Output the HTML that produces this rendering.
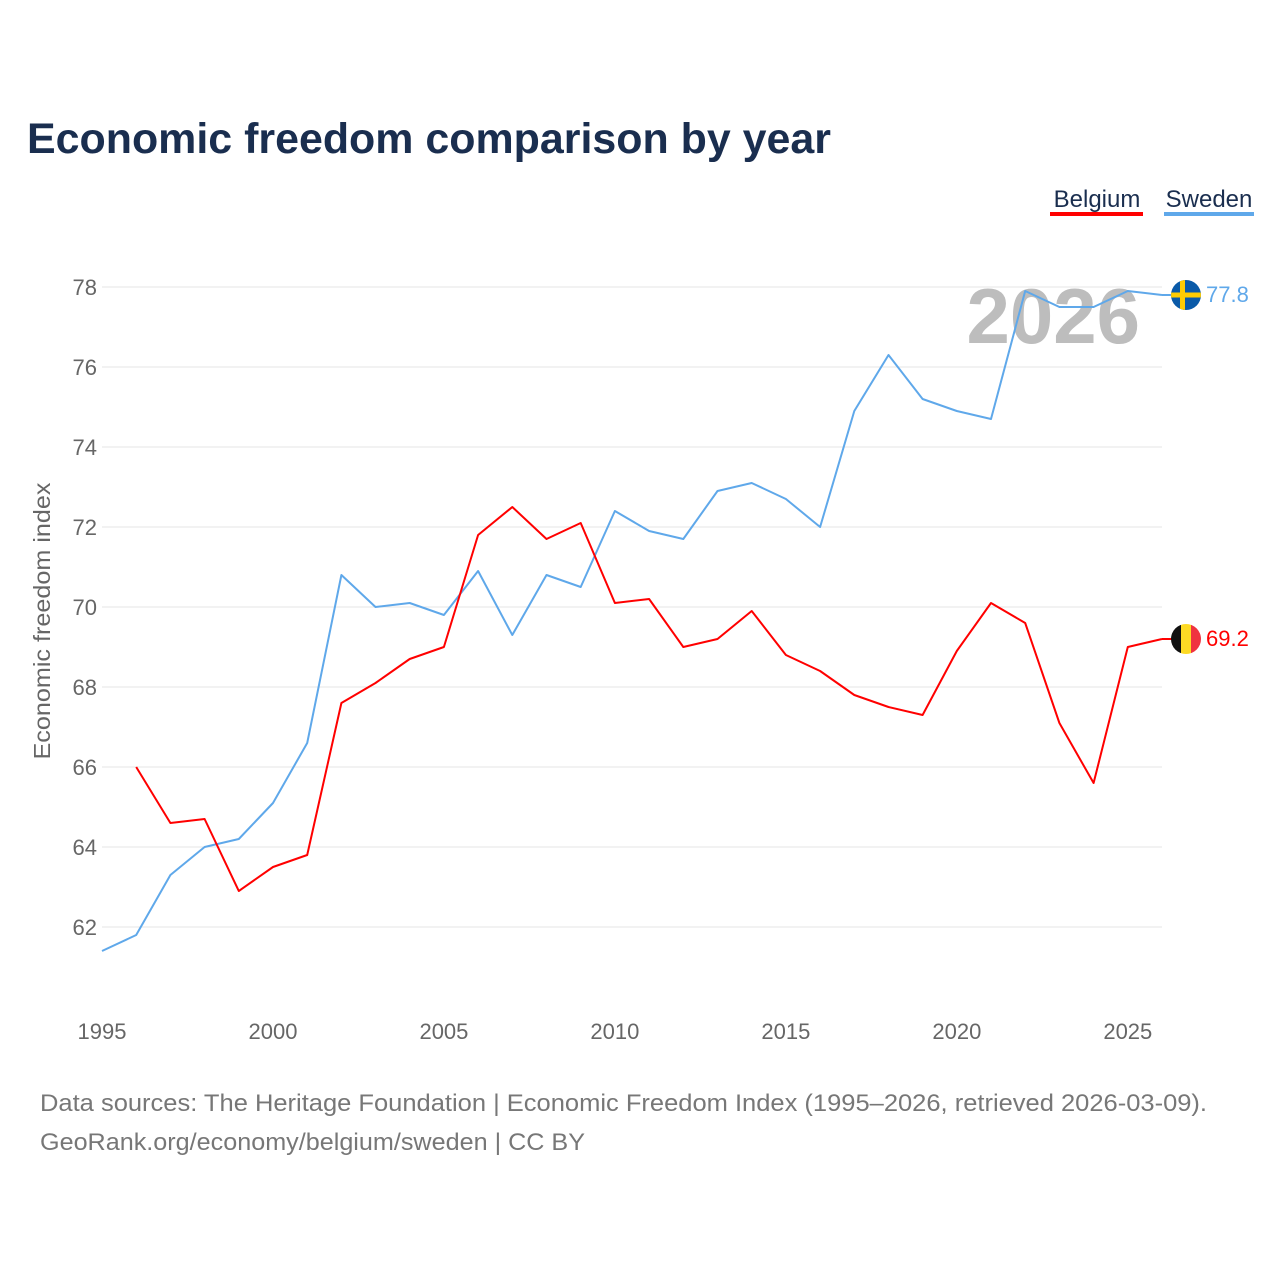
<!DOCTYPE html>
<html><head><meta charset="utf-8"><style>
body{margin:0;background:#fff;font-family:"Liberation Sans",sans-serif}
</style></head><body>
<svg id="c" width="1280" height="1280" xmlns="http://www.w3.org/2000/svg" style="display:block">
<text x="27" y="153" font-size="43" font-weight="bold" fill="#1a2e4f" textLength="804" lengthAdjust="spacingAndGlyphs">Economic freedom comparison by year</text>
<g>
<text x="1097" y="207" font-size="24" fill="#1a2e4f" text-anchor="middle">Belgium</text>
<rect x="1050" y="212" width="93" height="4" fill="#ff0000"/>
<text x="1209" y="207" font-size="24" fill="#1a2e4f" text-anchor="middle">Sweden</text>
<rect x="1164" y="212" width="90" height="4" fill="#5fa8ea"/>
</g>
<text x="1140" y="343" font-size="78" font-weight="bold" fill="#bdbdbd" text-anchor="end">2026</text>
<g id="grid"></g><g id="lines"></g>
<text transform="translate(50,621) rotate(-90)" font-size="23" fill="#666" text-anchor="middle" textLength="277" lengthAdjust="spacingAndGlyphs">Economic freedom index</text>
<text x="40" y="1111" font-size="24" fill="#777" textLength="1167" lengthAdjust="spacingAndGlyphs">Data sources: The Heritage Foundation | Economic Freedom Index (1995–2026, retrieved 2026-03-09).</text>
<text x="40" y="1150" font-size="24" fill="#777" textLength="545" lengthAdjust="spacingAndGlyphs">GeoRank.org/economy/belgium/sweden | CC BY</text>
</svg>
<script>
const years=[1995,1996,1997,1998,1999,2000,2001,2002,2003,2004,2005,2006,2007,2008,2009,2010,2011,2012,2013,2014,2015,2016,2017,2018,2019,2020,2021,2022,2023,2024,2025,2026];
const sweden=[61.4,61.8,63.3,64.0,64.2,65.1,66.6,70.8,70.0,70.1,69.8,70.9,69.3,70.8,70.5,72.4,71.9,71.7,72.9,73.1,72.7,72.0,74.9,76.3,75.2,74.9,74.7,77.9,77.5,77.5,77.9,77.8];
const belgium=[null,66.0,64.6,64.7,62.9,63.5,63.8,67.6,68.1,68.7,69.0,71.8,72.5,71.7,72.1,70.1,70.2,69.0,69.2,69.9,68.8,68.4,67.8,67.5,67.3,68.9,70.1,69.6,67.1,65.6,69.0,69.2];
const yTicks=[62,64,66,68,70,72,74,76,78];
const xTicks=[1995,2000,2005,2010,2015,2020,2025];
const NS="http://www.w3.org/2000/svg";
const x=v=>102+(v-1995)*(1060/31);
const y=v=>287+(78-v)*40;
function mk(t,a,p){const e=document.createElementNS(NS,t);for(const k in a)e.setAttribute(k,a[k]);p.appendChild(e);return e;}
const g=document.getElementById('grid'),L=document.getElementById('lines');
yTicks.forEach(t=>{
 const l=mk('line',{x1:102,x2:1162,y1:y(t),y2:y(t),stroke:'#e6e6e6','stroke-width':1},g);
 
 
 const tx=mk('text',{x:97,y:y(t)+8,'font-size':22,fill:'#666','text-anchor':'end'},g);tx.textContent=t;
 
 
});
xTicks.forEach(t=>{
 const tx=mk('text',{x:x(t),y:1039,'font-size':22,fill:'#666','text-anchor':'middle'},g);tx.textContent=t;
 
 
});
function line(vals,col,name){
 let d='';vals.forEach((v,i)=>{if(v==null)return;d+=(d?'L':'M')+x(years[i]).toFixed(1)+','+y(v).toFixed(1);});
 const p=mk('path',{d,fill:'none',stroke:col,'stroke-width':2,'stroke-linejoin':'round'},L);
 
 
}
line(sweden,'#5fa8ea','sweden-line');line(belgium,'#ff0000','belgium-line');
function endLabel(vals,col,name,flag){
 const v=vals[vals.length-1],yy=y(v);
 mk('line',{x1:1162,x2:1172,y1:yy,y2:yy,stroke:col,'stroke-width':2},L);
 const f=mk('g',{},L);
 
 
 const cid='clip'+name;const cp=mk('clipPath',{id:cid},f);mk('circle',{cx:1186,cy:yy,r:15},cp);
 const gg=mk('g',{'clip-path':'url(#'+cid+')'},f);flag(gg,yy);
 const t=mk('text',{x:1206,y:yy+7,'font-size':22,fill:col},L);t.textContent=v.toFixed(1);
 
 
}
endLabel(sweden,'#5fa8ea','sweden',(p,yy)=>{mk('rect',{x:1171,y:yy-15,width:30,height:30,fill:'#0a5aa8'},p);mk('rect',{x:1171,y:yy-2.5,width:30,height:5,fill:'#fecc02'},p);mk('rect',{x:1180,y:yy-15,width:5,height:30,fill:'#fecc02'},p);});
endLabel(belgium,'#ff0000','belgium',(p,yy)=>{mk('rect',{x:1171,y:yy-15,width:10,height:30,fill:'#111'},p);mk('rect',{x:1181,y:yy-15,width:10,height:30,fill:'#fdda24'},p);mk('rect',{x:1191,y:yy-15,width:10,height:30,fill:'#ef3340'},p);});
</script>
</body></html>
